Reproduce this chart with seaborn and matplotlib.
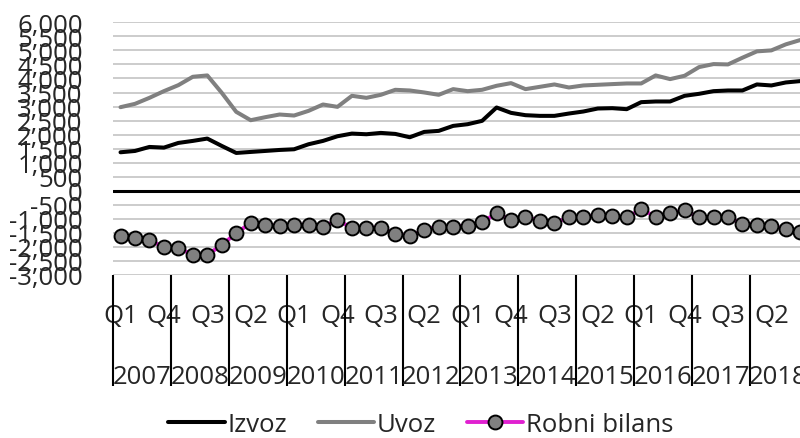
import seaborn as sns
from matplotlib import pyplot as plt
from matplotlib.ticker import FixedLocator, FuncFormatter
import pandas as pd

# quarterly values, Q1 2007 .. Q4 2018
years = ['2007', '2008', '2009', '2010', '2011', '2012',
         '2013', '2014', '2015', '2016', '2017', '2018']
izvoz = [1371, 1418, 1561, 1537, 1704, 1776, 1859, 1597, 1347, 1383, 1418, 1454,
         1478, 1657, 1776, 1942, 2037, 2013, 2061, 2025, 1906, 2097, 2133, 2311,
         2371, 2490, 2966, 2775, 2692, 2668, 2668, 2751, 2823, 2930, 2942, 2906,
         3156, 3180, 3180, 3382, 3453, 3548, 3572, 3572, 3787, 3751, 3858, 3906]
uvoz = [2977, 3096, 3310, 3548, 3762, 4060, 4108, 3489, 2811, 2513, 2620, 2716,
        2680, 2846, 3073, 2989, 3382, 3310, 3418, 3596, 3572, 3501, 3418, 3620,
        3548, 3596, 3739, 3834, 3620, 3703, 3787, 3679, 3751, 3775, 3799, 3822,
        3822, 4108, 3977, 4096, 4405, 4512, 4500, 4739, 4965, 5000, 5215, 5369]
bilans = [-1595, -1690, -1750, -2012, -2048, -2274, -2274, -1940, -1500, -1155,
          -1214, -1250, -1214, -1202, -1286, -1036, -1333, -1310, -1310, -1536,
          -1619, -1393, -1274, -1274, -1238, -1119, -798, -1036, -940, -1060,
          -1155, -940, -940, -857, -905, -940, -667, -917, -798, -702, -952,
          -940, -940, -1179, -1202, -1262, -1357, -1476]

df = pd.DataFrame({'t': range(len(izvoz)), 'Izvoz': izvoz,
                   'Uvoz': uvoz, 'Robni bilans': bilans})
quarters = ['Q%d' % (i % 4 + 1) for i in df.t]

sns.set_style("white")
plt.rcParams['font.family'] = ['Open Sans', 'DejaVu Sans']
plt.rcParams['axes.unicode_minus'] = False
fs = 18.5

fig = plt.figure(figsize=(8, 4.39), dpi=100)
ax = fig.add_axes([0.1416, 0.3713, 0.8678, 0.5756])

sns.lineplot(data=df, x='t', y='Izvoz', color='black', lw=2.9,
             label='Izvoz', ax=ax, zorder=4)
sns.lineplot(data=df, x='t', y='Uvoz', color='#808080', lw=2.9,
             label='Uvoz', ax=ax, zorder=3)
sns.lineplot(data=df, x='t', y='Robni bilans', color='#e020d0', lw=2.8,
             marker='o', markersize=10, markerfacecolor='#808080',
             markeredgecolor='black', markeredgewidth=1.4,
             label='Robni bilans', ax=ax, zorder=5)

ax.axhline(0, color='black', lw=2.2, zorder=2)

ax.set_ylim(-3000, 6000)
ax.set_xlim(-0.5, len(izvoz) - 0.5)
ax.set_yticks(range(-3000, 6001, 500))
ax.yaxis.set_major_formatter(FuncFormatter(lambda v, p: f'{v:,.0f}'))
ax.yaxis.grid(True, color='#bfbfbf', lw=1.1)
ax.xaxis.grid(False)
ax.set_axisbelow(True)
sns.despine(ax=ax, left=True, bottom=True)

pos = list(range(0, len(izvoz), 3))
ax.set_xticks(pos)
ax.set_xticklabels([quarters[i] for i in pos])
ax.xaxis.set_minor_locator(FixedLocator([4 * k - 0.5 for k in range(len(years) + 1)]))
ax.tick_params(axis='x', which='major', length=0, pad=20, labelsize=fs)
ax.tick_params(axis='x', which='minor', length=80, width=1.5,
               color='black', direction='out', bottom=True)
ax.tick_params(axis='y', length=0, pad=22, labelsize=fs)
ax.set_xlabel('')
ax.set_ylabel('')

for k, yr in enumerate(years):
    ax.text(4 * k + 1.5, -0.40, yr, transform=ax.get_xaxis_transform(),
            ha='center', va='center', fontsize=fs)

h, l = ax.get_legend_handles_labels()
ax.get_legend().remove()
fig.legend(h, l, loc='lower center', bbox_to_anchor=(0.526, -0.05), ncol=3,
           frameon=False, fontsize=fs, handlelength=2.2, handletextpad=0.1,
           columnspacing=1.2)

fig.savefig('out.png', dpi=100)
